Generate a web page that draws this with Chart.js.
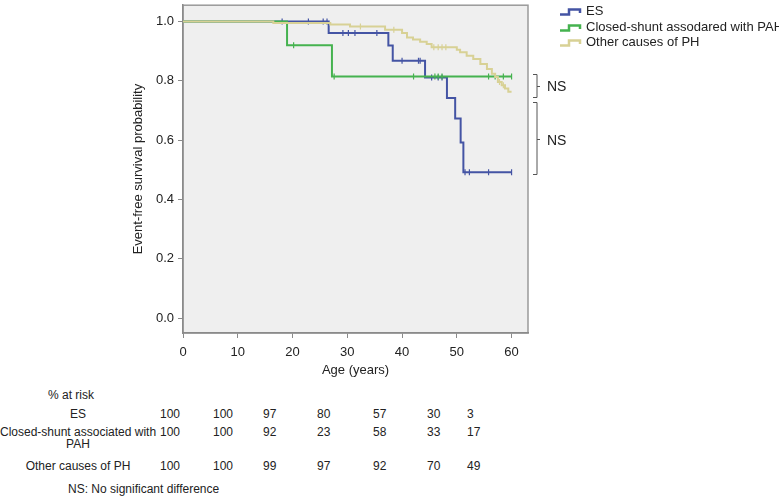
<!DOCTYPE html>
<html>
<head>
  <meta charset="UTF-8">
  <title>Event-free survival by age</title>
  <script src="https://cdn.jsdelivr.net/npm/chart.js"></script>
  <style>
    body, html {
      margin: 0;
      padding: 0;
      background: #fff;
      font-family: "Liberation Sans", Arial, sans-serif;
      color: #222;
    }
    #wrap { position: relative; width: 779px; height: 500px; overflow: hidden; }
    #chart-box { position: absolute; left: 0; top: 0; width: 779px; height: 380px; }
    #legend { position: absolute; left: 560px; top: 3px; font-size: 13px; }
    #legend div { height: 15.5px; line-height: 15.5px; white-space: nowrap; }
    #legend svg { vertical-align: -1px; margin-right: 4px; }
    .ns { position: absolute; left: 547px; font-size: 14px; line-height: 16px; }
    .risk { position: absolute; font-size: 12px; line-height: 12px; white-space: nowrap; }
    .lab { position: absolute; left: 0; width: 156px; text-align: center; font-size: 12px; line-height: 12px; white-space: pre; }
  </style>
</head>
<body>
<div id="wrap">
  <div id="chart-box"><canvas id="kmChart"></canvas></div>
  <div id="legend"></div>
  <div class="ns" style="top:78px">NS</div>
  <div class="ns" style="top:132px">NS</div>
  <div id="risk"></div>
</div>

<script>
  // series labels + colours
  const seriesNames = ['ES', 'Closed-shunt assodared with PAH', 'Other causes of PH'];
  const seriesColors = ['#4454a4', '#45b24f', '#d8d195'];

  // step curves: age where the curve drops, and the new survival value
  const esTimes = [0, 26.6, 37.5, 38.3, 44.2, 48.2, 49.7, 50.7, 51.2, 60];
  const esSurv  = [1.0, 0.961, 0.919, 0.868, 0.811, 0.742, 0.673, 0.592, 0.492, 0.492];
  const esCensor = [18.1, 22.9, 25.6, 26.3, 29.2, 30.2, 31.4, 35.4, 40.0, 43.0, 43.3, 45.4, 46.6, 47.3, 51.5, 52.3, 55.8, 60.0];

  const csTimes = [0, 19.0, 27.2, 60];
  const csSurv  = [1.0, 0.920, 0.815, 0.815];
  const csCensor = [20.2, 27.6, 42.1, 46.0, 46.6, 47.3, 55.8, 57.0, 58.5, 60.0];

  const phTimes = [0, 16.5, 26.9, 30.5, 36.9, 40.0, 40.9, 42.0, 43.3, 44.5, 45.4, 50.0, 50.6, 51.8, 53.0, 54.3, 55.5, 56.4, 57.0, 57.5, 58.2, 58.8, 59.4, 60];
  const phSurv  = [1.0, 0.995, 0.99, 0.983, 0.972, 0.961, 0.946, 0.939, 0.932, 0.924, 0.913, 0.905, 0.896, 0.885, 0.874, 0.857, 0.840, 0.824, 0.813, 0.796, 0.785, 0.774, 0.763, 0.763];
  const phCensor = [32.4, 38.5, 45.8, 46.6, 47.3, 48.0, 57.8, 58.5];

  const xTicks = [0, 10, 20, 30, 40, 50, 60];
  const yTicks = [0, 0.2, 0.4, 0.6, 0.8, 1.0];

  // NS brackets (survival range they span)
  const brackets = [[0.824, 0.746], [0.729, 0.485]];

  // % at risk table
  const riskRows = ['ES', 'Closed-shunt associated with\nPAH', 'Other causes of PH'];
  const riskES    = [100, 100, 97, 80, 57, 30, 3];
  const riskCS    = [100, 100, 92, 23, 58, 33, 17];
  const riskOther = [100, 100, 99, 97, 92, 70, 49];

  function survAt(times, surv, t) {
    let v = surv[0];
    for (let i = 0; i < times.length; i++) { if (times[i] <= t) v = surv[i]; }
    return v;
  }

  const curves = [[esTimes, esSurv, esCensor], [csTimes, csSurv, csCensor], [phTimes, phSurv, phCensor]];
  const datasets = [];
  curves.forEach((c, k) => {
    const order = 2 - k; // tan on top, blue underneath
    datasets.push({
      label: seriesNames[k],
      data: c[0].map((t, i) => ({ x: t, y: c[1][i] })),
      borderColor: seriesColors[k],
      borderWidth: 2,
      stepped: 'before',
      pointRadius: 0,
      order: order
    });
    datasets.push({
      label: seriesNames[k] + ' censored',
      data: c[2].map(t => ({ x: t, y: survAt(c[0], c[1], t) })),
      showLine: false,
      pointStyle: 'line',
      pointRotation: 90,
      pointRadius: 3,
      pointBorderColor: seriesColors[k],
      pointBorderWidth: 1.2,
      order: order
    });
  });

  const boxPlugin = {
    id: 'box',
    beforeDraw(c) {
      const a = c.chartArea, g = c.ctx;
      g.save();
      g.fillStyle = '#efefef';
      g.fillRect(a.left, a.top, a.width, a.height);
      g.strokeStyle = '#9a9a9a';
      g.lineWidth = 1.5;
      g.strokeRect(a.left, a.top, a.width, a.height);
      g.restore();
    }
  };

  const bracketPlugin = {
    id: 'brackets',
    afterDraw(c) {
      const g = c.ctx, y = c.scales.y, x0 = c.chartArea.right + 9;
      g.save();
      g.strokeStyle = '#555';
      g.lineWidth = 1;
      brackets.forEach(b => {
        const t = Math.round(y.getPixelForValue(b[0])) + 0.5;
        const btm = Math.round(y.getPixelForValue(b[1])) + 0.5;
        const m = Math.round((t + btm) / 2) + 0.5;
        g.beginPath();
        g.moveTo(x0 - 4, t); g.lineTo(x0, t); g.lineTo(x0, btm); g.lineTo(x0 - 4, btm);
        g.moveTo(x0, m); g.lineTo(x0 + 3, m);
        g.stroke();
      });
      g.restore();
    }
  };

  Chart.defaults.font.family = '"Liberation Sans", Arial, sans-serif';
  Chart.defaults.font.size = 13;
  Chart.defaults.color = '#222';

  const ctx = document.getElementById('kmChart').getContext('2d');
  new Chart(ctx, {
    type: 'line',
    data: { datasets: datasets },
    options: {
      responsive: true,
      maintainAspectRatio: false,
      animation: false,
      layout: { padding: { left: 128, right: 251, top: 3, bottom: 0 } },
      plugins: { legend: { display: false }, tooltip: { enabled: false } },
      scales: {
        x: {
          type: 'linear', min: 0, max: 63,
          afterBuildTicks: s => { s.ticks = xTicks.map(v => ({ value: v })); },
          afterFit: s => { s.height = 47; s.paddingLeft = 0; s.paddingRight = 0; },
          ticks: { autoSkip: false, maxRotation: 0, padding: 7 },
          grid: { drawOnChartArea: false, tickLength: 5, color: '#8a8a8a' },
          border: { display: true, color: '#8a8a8a', width: 1.5 },
          title: { display: true, text: 'Age (years)', padding: { top: 0, bottom: 2 } }
        },
        y: {
          min: -0.05, max: 1.055,
          afterBuildTicks: s => { s.ticks = yTicks.map(v => ({ value: v })); },
          afterFit: s => { s.width = 55; s.paddingTop = 0; s.paddingBottom = 0; },
          ticks: { autoSkip: false, padding: 4, callback: v => v.toFixed(1) },
          grid: { drawOnChartArea: false, tickLength: 5, color: '#8a8a8a' },
          border: { display: true, color: '#8a8a8a', width: 1.5 },
          title: { display: true, text: 'Event-free survival probability', padding: { top: 3, bottom: 0 } }
        }
      }
    },
    plugins: [boxPlugin, bracketPlugin]
  });

  // legend with little step icons
  const legend = document.getElementById('legend');
  seriesNames.forEach((name, k) => {
    const row = document.createElement('div');
    row.innerHTML = '<svg width="22" height="8"><polyline points="0,6.5 9,6.5 9,1.5 20,1.5 20,5" fill="none" stroke="' +
      seriesColors[k] + '" stroke-width="2.5"/></svg>';
    row.appendChild(document.createTextNode(name));
    legend.appendChild(row);
  });

  // at-risk table
  const risk = document.getElementById('risk');
  const colX = [160, 213, 263, 317, 373, 427, 467];
  const rowTop = [408, 426, 460];
  function addText(cls, left, top, text) {
    const d = document.createElement('div');
    d.className = cls;
    if (left !== null) d.style.left = left + 'px';
    d.style.top = top + 'px';
    d.textContent = text;
    risk.appendChild(d);
  }
  addText('risk', 48, 389, '% at risk');
  [riskES, riskCS, riskOther].forEach((vals, r) => {
    addText('lab', null, rowTop[r], riskRows[r]);
    vals.forEach((v, i) => addText('risk', colX[i], rowTop[r], String(v)));
  });
  addText('risk', 68, 483, 'NS: No significant difference');
</script>
</body>
</html>
